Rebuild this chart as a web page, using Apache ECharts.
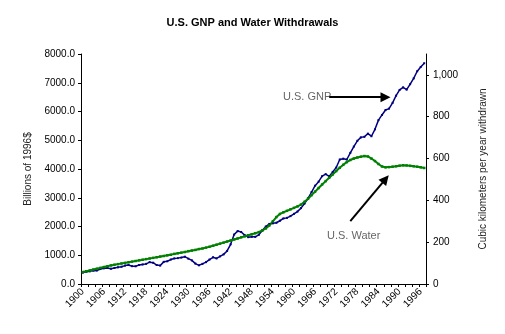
<!DOCTYPE html>
<html><head><meta charset="utf-8">
<script src="https://cdn.jsdelivr.net/npm/echarts@6/dist/echarts.min.js"></script>
<style>html,body{margin:0;padding:0;background:#fff}#c{width:505px;height:334px}</style>
</head><body><div id="c"></div>
<script>
const years = [];
for (let y = 1900; y <= 1997; y++) years.push(String(y));

const gnp = [395,430,440,465,470,520,545,560,530,560,
580,600,640,660,620,615,660,680,700,760,
740,660,640,770,790,850,890,900,920,950,
880,820,710,650,700,760,850,930,890,960,
1030,1150,1380,1720,1840,1810,1700,1630,1640,1640,
1710,1860,2000,2090,2110,2130,2200,2280,2300,2360,
2440,2520,2640,2800,2980,3200,3420,3560,3750,3820,
3740,3900,4050,4330,4360,4330,4560,4780,4980,5100,
5120,5230,5140,5380,5700,5880,6050,6100,6300,6550,
6750,6840,6760,6950,7150,7400,7550,7680];

const water = [57,61,65,69,73,77,81,85,89,92,
95,98,101,104,107,110,113,116,119,122,
125,128,131,134,137,140,144,147,150,153,
157,160,163,167,170,174,178,183,188,193,
198,203,208,213,218,223,228,233,238,243,
248,256,266,280,300,320,335,343,350,357,
364,371,380,393,408,425,442,459,476,492,
508,524,540,556,570,583,593,600,605,609,
612,610,600,588,574,562,558,559,561,563,
566,568,567,565,563,561,558,555];

const leftTicks = [0,1000,2000,3000,4000,5000,6000,7000,8000];
const rightTicks = [0,200,400,600,800,1000];

const FONT = 'Liberation Sans';
const chart = echarts.init(document.getElementById('c'), null, {renderer:'canvas'});
chart.setOption({
  animation:false,
  backgroundColor:'#fff',
  textStyle:{fontFamily:FONT},
  title:{text:'U.S. GNP and Water Withdrawals',left:'center',top:12,
    textStyle:{fontFamily:FONT,fontSize:11,fontWeight:'bold',color:'#000'}},
  grid:{left:81,right:79,top:54,bottom:50,containLabel:false},
  xAxis:{type:'category',data:years,boundaryGap:true,
    axisLine:{lineStyle:{color:'#000',width:1}},
    axisTick:{show:true,interval:1,length:3,lineStyle:{color:'#000'}},
    axisLabel:{interval:5,rotate:45,fontSize:10,color:'#000',fontFamily:FONT,margin:6},
    splitLine:{show:false}},
  yAxis:[{type:'value',min:0,max:8000,interval:1000,position:'left',
    name:'Billions of 1996$',nameLocation:'middle',nameGap:48,nameRotate:90,
    nameTextStyle:{fontSize:10,color:'#222',fontFamily:FONT},
    axisLine:{show:true,lineStyle:{color:'#000'}},
    axisTick:{show:true,length:3,lineStyle:{color:'#000'},customValues:leftTicks},
    axisLabel:{fontSize:10,color:'#000',margin:6,fontFamily:FONT,customValues:leftTicks,
      formatter:v=>Number(v).toFixed(1)},
    splitLine:{show:false}},
   {type:'value',min:0,max:1100,interval:200,position:'right',
    name:'Cubic kilometers per year withdrawn',nameLocation:'middle',nameGap:52,nameRotate:90,
    nameTextStyle:{fontSize:10,color:'#222',fontFamily:FONT},
    axisLine:{show:true,lineStyle:{color:'#000'}},
    axisTick:{show:true,length:3,lineStyle:{color:'#000'},customValues:rightTicks},
    axisLabel:{fontSize:10,color:'#000',margin:7,fontFamily:FONT,customValues:rightTicks,
      formatter:v=>Number(v).toLocaleString('en-US')},
    splitLine:{show:false}}],
  graphic:[
    {type:'text',left:283,top:91,style:{text:'U.S. GNP',fontFamily:FONT,fontSize:11,fill:'#666'}},
    {type:'text',left:327,top:230,style:{text:'U.S. Water',fontFamily:FONT,fontSize:11,fill:'#666'}}
  ],
  series:[
    {name:'U.S. GNP',type:'line',data:gnp,yAxisIndex:0,
      symbol:'rect',symbolSize:2,showSymbol:true,showAllSymbol:true,
      lineStyle:{color:'#000080',width:1.5},itemStyle:{color:'#000080'},
      markLine:{silent:true,symbol:['none','triangle'],symbolSize:10,
        label:{show:false},
        lineStyle:{color:'#000',width:2,type:'solid'},
        data:[
          [{coord:['1970',6500]},{coord:['1986',6500]}],
          [{coord:['1976',2190]},{coord:['1986',3650]}]
        ]}},
    {name:'U.S. Water',type:'line',data:water,yAxisIndex:1,
      symbol:'rect',symbolSize:2.5,showSymbol:true,showAllSymbol:true,
      lineStyle:{color:'#008000',width:2},itemStyle:{color:'#008000'}}
  ]
});
</script></body></html>
